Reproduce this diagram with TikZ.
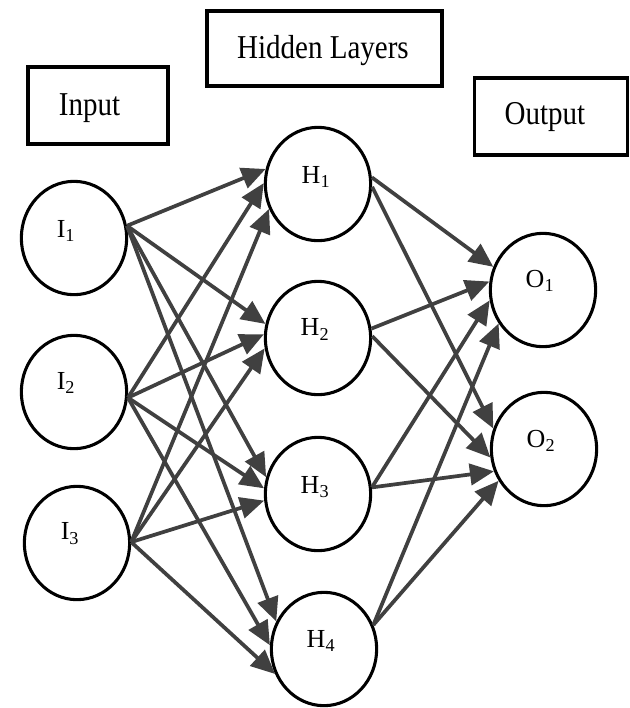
\documentclass[tikz,border=0pt]{standalone}
\usepackage{fontspec}
\setmainfont{Liberation Serif}
\newfontfamily\headfont[FakeStretch=0.87]{Liberation Serif}
\usetikzlibrary{arrows.meta,shapes.geometric}
\definecolor{arrowgray}{HTML}{404040}

\begin{document}
\begin{tikzpicture}[x=0.75pt,y=-0.75pt,
  neuron/.style={ellipse, draw=black, line width=2.3pt,
    minimum width=79pt, minimum height=85pt, inner sep=0pt},
  nlabel/.style={inner sep=0pt, font=\fontsize{19.5pt}{21pt}\selectfont},
  headbox/.style={draw=black, line width=2.3pt, inner sep=0pt},
  headtext/.style={inner sep=0pt, font=\headfont\fontsize{25pt}{28pt}\selectfont},
  conn/.style={draw=arrowgray, line width=2.8pt,
    -{Triangle[length=18pt,width=16pt]}}
]
\useasboundingbox (0,0) rectangle (630,708);

% layer headings
\node[headbox, minimum width=105pt, minimum height=57.75pt] (inbox) at (98,105.5) {};
\node[headtext] (intext) at (89.5,108) {Input};
\node[headbox, minimum width=176.25pt, minimum height=56.25pt] (hidbox) at (324.5,48.5) {};
\node[headtext] (hidtext) at (323,51) {Hidden Layers};
\node[headbox, minimum width=114.75pt, minimum height=57.75pt] (outbox) at (551,116.5) {};
\node[headtext] (outtext) at (545,117) {Output};

% neurons
\node[neuron] (i1) at (74,238) {};
\node[neuron] (i2) at (74,392) {};
\node[neuron] (i3) at (77,543) {};
\node[neuron] (h1) at (318,184) {};
\node[neuron] (h2) at (318,338) {};
\node[neuron] (h3) at (318,494) {};
\node[neuron] (h4) at (324,649) {};
\node[neuron] (o1) at (543,290) {};
\node[neuron] (o2) at (544,449) {};

% neuron names
\node[nlabel] (i1t) at (66,231) {I\textsubscript{1}};
\node[nlabel] (i2t) at (66,383) {I\textsubscript{2}};
\node[nlabel] (i3t) at (70,533.5) {I\textsubscript{3}};
\node[nlabel] (h1t) at (316,177) {H\textsubscript{1}};
\node[nlabel] (h2t) at (315,329.5) {H\textsubscript{2}};
\node[nlabel] (h3t) at (315,487) {H\textsubscript{3}};
\node[nlabel] (h4t) at (321,641) {H\textsubscript{4}};
\node[nlabel] (o1t) at (540,281) {O\textsubscript{1}};
\node[nlabel] (o2t) at (541,441) {O\textsubscript{2}};

% input -> hidden
\draw[conn] (i1.13) -- (h1.164);
\draw[conn] (i1.13) -- (h2.165);
\draw[conn] (i1.13) -- (h3.162);
\draw[conn] (i1.13) -- (h4.150);
\draw[conn] (i2.354) -- (h1.179);
\draw[conn] (i2.354) -- (h2.176);
\draw[conn] (i2.354) -- (h3.174);
\draw[conn] (i2.354) -- (h4.176);
\draw[conn] (i3.1) -- (h1.207);
\draw[conn] (i3.1) -- (h2.191);
\draw[conn] (i3.1) -- (h3.187);
\draw[conn] (i3.1) -- (h4.207);

% hidden -> output
\draw[conn] (h1.7) -- (o1.155);
\draw[conn] (h1.357) -- (o2.158);
\draw[conn] (h2.10) -- (o1.171);
\draw[conn] (h2.2) -- (o2.189);
\draw[conn] (h3.7) -- (o1.191);
\draw[conn] (h3.7) -- (o2.204);
\draw[conn] (h4.26) -- (o1.217);
\draw[conn] (h4.26) -- (o2.215);
\end{tikzpicture}
\end{document}
